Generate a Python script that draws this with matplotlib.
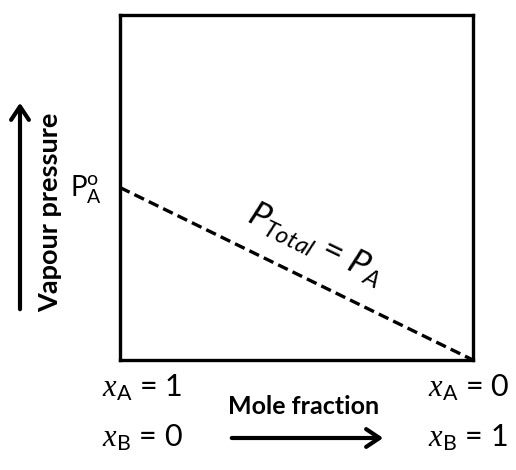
import matplotlib.pyplot as plt

plt.rcParams['font.family'] = ['Lato', 'DejaVu Sans']
plt.rcParams['mathtext.fontset'] = 'custom'
plt.rcParams['mathtext.rm'] = 'Lato'
plt.rcParams['mathtext.it'] = 'Lato:italic'
plt.rcParams['mathtext.sf'] = 'Lato'
# serif italic for the mole fraction symbol
plt.rcParams['mathtext.bf'] = 'Liberation Serif:italic'

# mole fraction of B along the axis, vapour pressure of A
x_b = [0.0, 1.0]
p_a = [0.5, 0.0]

fig = plt.figure(figsize=(5.16, 4.70), dpi=100)
ax = fig.add_axes([0.2326, 0.234, 0.684, 0.734])
ax.plot(x_b, p_a, color='black', lw=2.4, ls=(0, (3.2, 1.6)), solid_capstyle='butt')
ax.set_xlim(0, 1)
ax.set_ylim(0, 1)
ax.set_xticks([])
ax.set_yticks([])
for s in ax.spines.values():
    s.set_linewidth(2.4)

ax.text(0.555, 0.335, r'$P_{Total}$ = $P_{A}$', rotation=-25.7, fontsize=25,
        ha='center', va='center', transform=ax.transAxes, rotation_mode='anchor')

# P_A degree label
fig.text(70 / 516, 1 - 190 / 470, r'P$^{\mathrm{o}}_{\mathrm{A}}$', fontsize=20,
         ha='left', va='center')

# y axis caption with arrow
fig.text(50 / 516, 1 - 212 / 470, 'Vapour pressure', rotation=90, fontsize=19.5,
         fontweight='bold', ha='center', va='center')
fig.patches.append(plt.matplotlib.patches.FancyArrowPatch(
    (20 / 516, 1 - 312 / 470), (20 / 516, 1 - 100 / 470), transform=fig.transFigure,
    arrowstyle='->,head_length=6,head_width=4', lw=3, color='black', mutation_scale=1.6))

# x axis caption with arrow
fig.text(304 / 516, 1 - 407 / 470, 'Mole fraction', fontsize=18,
         fontweight='bold', ha='center', va='center')
fig.patches.append(plt.matplotlib.patches.FancyArrowPatch(
    (229 / 516, 1 - 438 / 470), (386 / 516, 1 - 438 / 470), transform=fig.transFigure,
    arrowstyle='->,head_length=6,head_width=4', lw=3, color='black', mutation_scale=1.6))

ends = [(102, r'$\mathbf{x}_{\mathrm{A}}$ = 1', r'$\mathbf{x}_{\mathrm{B}}$ = 0'),
        (428, r'$\mathbf{x}_{\mathrm{A}}$ = 0', r'$\mathbf{x}_{\mathrm{B}}$ = 1')]
for px, top, bot in ends:
    fig.text(px / 516, 1 - 388 / 470, top, fontsize=22, ha='left', va='center')
    fig.text(px / 516, 1 - 438 / 470, bot, fontsize=22, ha='left', va='center')

fig.savefig('out.png', dpi=100)
